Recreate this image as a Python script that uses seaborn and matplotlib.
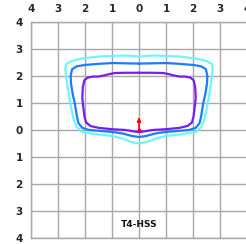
import matplotlib
matplotlib.use("Agg")
import matplotlib.pyplot as plt
import pandas as pd
import seaborn as sns

# isocandela contours (x, y in grid units), traced clockwise from top centre
outer_x = [0, 0.5, 0.9, 1.5, 2.1, 2.5, 2.7, 2.73, 2.7, 2.66, 2.58, 2.53, 2.42, 2.3, 2.1, 1.6, 1.0, 0.6, 0.3, 0,
           -0.3, -0.6, -1.0, -1.6, -2.1, -2.3, -2.42, -2.53, -2.58, -2.66, -2.7, -2.73, -2.7, -2.5, -2.1, -1.5, -0.9, -0.5, 0]
outer_y = [2.72, 2.76, 2.75, 2.72, 2.65, 2.56, 2.44, 2.25, 2.0, 1.7, 1.2, 0.9, 0.4, 0.1, -0.08, -0.15, -0.22, -0.32, -0.44, -0.5,
           -0.44, -0.32, -0.22, -0.15, -0.08, 0.1, 0.4, 0.9, 1.2, 1.7, 2.0, 2.25, 2.44, 2.56, 2.65, 2.72, 2.75, 2.76, 2.72]

mid_x = [0, 0.5, 1.0, 1.5, 2.0, 2.3, 2.48, 2.53, 2.52, 2.45, 2.38, 2.3, 2.24, 2.1, 1.85, 1.4, 1.0, 0.6, 0.27, 0,
         -0.27, -0.6, -1.0, -1.4, -1.85, -2.1, -2.24, -2.3, -2.38, -2.45, -2.52, -2.53, -2.48, -2.3, -2.0, -1.5, -1.0, -0.5, 0]
mid_y = [2.46, 2.47, 2.48, 2.45, 2.41, 2.36, 2.25, 2.0, 1.73, 1.3, 1.0, 0.5, 0.25, 0.08, 0.0, -0.04, -0.07, -0.13, -0.22, -0.26,
         -0.22, -0.13, -0.07, -0.04, 0.0, 0.08, 0.25, 0.5, 1.0, 1.3, 1.73, 2.0, 2.25, 2.36, 2.41, 2.45, 2.48, 2.47, 2.46]

inner_x = [0, 0.5, 0.9, 1.1, 1.3, 1.5, 1.7, 1.9, 2.02, 2.08, 2.1, 2.07, 2.02, 1.96, 1.8, 1.5, 1.0, 0.5, 0.2, 0,
           -0.2, -0.5, -1.0, -1.5, -1.8, -1.96, -2.02, -2.07, -2.1, -2.08, -2.02, -1.9, -1.7, -1.5, -1.3, -1.1, -0.9, -0.5, 0]
inner_y = [2.12, 2.12, 2.11, 2.07, 2.02, 1.98, 1.98, 1.94, 1.85, 1.6, 1.2, 0.9, 0.5, 0.28, 0.15, 0.08, 0.03, 0.0, -0.05, -0.08,
           -0.05, 0.0, 0.03, 0.08, 0.15, 0.28, 0.5, 0.9, 1.2, 1.6, 1.85, 1.94, 1.98, 1.98, 2.02, 2.07, 2.11, 2.12, 2.12]

contour_names = ["outer", "mid", "inner"]
contour_colors = ["#70f4ff", "#1a7cff", "#7a1cf0"]

tick_values = [-4, -3, -2, -1, 0, 1, 2, 3, 4]
tick_labels = ["4", "3", "2", "1", "0", "1", "2", "3", "4"]

arrow_x, arrow_y, arrow_len = 0, 0, 0.5
title = "T4-HSS"

df = pd.concat([
    pd.DataFrame({"x": outer_x, "y": outer_y, "contour": "outer"}),
    pd.DataFrame({"x": mid_x, "y": mid_y, "contour": "mid"}),
    pd.DataFrame({"x": inner_x, "y": inner_y, "contour": "inner"}),
])

sns.set_style("white")
fig = plt.figure(figsize=(2.46, 2.44), dpi=100)
ax = fig.add_axes([31 / 246, 6 / 244, 216 / 246, 216 / 244])

sns.lineplot(data=df, x="x", y="y", hue="contour", hue_order=contour_names,
             palette=contour_colors, sort=False, estimator=None, linewidth=1.6,
             legend=False, ax=ax, zorder=3)

ax.annotate("", xy=(arrow_x, arrow_y + arrow_len), xytext=(arrow_x, arrow_y),
            arrowprops=dict(arrowstyle="-|>,head_length=0.25,head_width=0.1", color="red", lw=1.2,
                            shrinkA=0, shrinkB=0),
            zorder=4)
ax.scatter([arrow_x], [arrow_y], s=7, color="red", zorder=4, linewidth=0)

ax.text(0, -3.5, title, ha="center", va="center", fontsize=6.5, fontweight="bold", color="#111111")

ax.set_xlim(-4, 4)
ax.set_ylim(-4, 4)
ax.set_xticks(tick_values)
ax.set_xticklabels(tick_labels)
ax.set_yticks(tick_values)
ax.set_yticklabels(tick_labels)
ax.xaxis.tick_top()
ax.tick_params(length=0, labelsize=7.5, pad=6)
for lab in ax.get_xticklabels() + ax.get_yticklabels():
    lab.set_fontweight("bold")
ax.set_xlabel("")
ax.set_ylabel("")
ax.grid(True, color="#a8a8a8", linewidth=1.0)
for s in ax.spines.values():
    s.set_color("#a8a8a8")
    s.set_linewidth(1.0)

fig.savefig("out.png", dpi=100)
